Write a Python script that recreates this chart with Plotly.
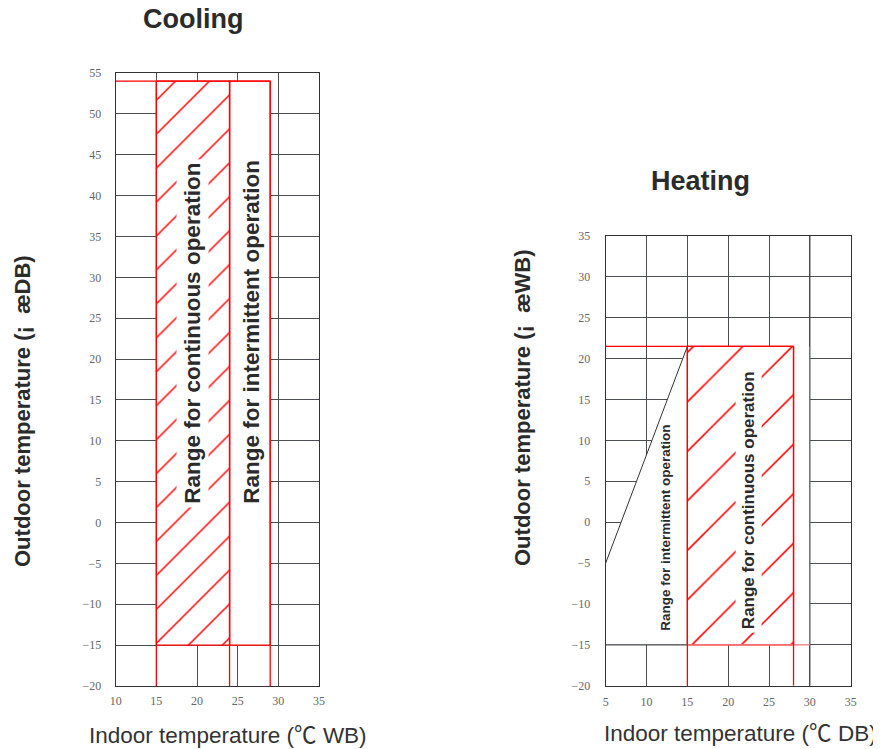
import plotly.graph_objects as go

# cooling chart data
cool_x_ticks = [10, 15, 20, 25, 30, 35]
cool_y_ticks = [-20, -15, -10, -5, 0, 5, 10, 15, 20, 25, 30, 35, 40, 45, 50, 55]
cool_continuous_x = [15, 24]
cool_intermittent_x = [24, 29]
cool_y_limits = [-15, 54]

# heating chart data
heat_x_ticks = [5, 10, 15, 20, 25, 30, 35]
heat_y_ticks = [-20, -15, -10, -5, 0, 5, 10, 15, 20, 25, 30, 35]
heat_continuous_x = [15, 28]
heat_y_limits = [-15, 21.5]
heat_diag_x = [5, 15]
heat_diag_y = [-5, 21.5]
heat_edge_x = 30

# the page body has an 8px margin, so the figure is a bit smaller than the window
OFF = 8
W, H = 881 - OFF, 749 - OFF
RED = "#ff0000"
GRID = "#4a4d52"
TXT = "#2b2b2b"
CJK = '<span style="font-family:\'Noto Sans CJK SC\'">℃</span>'


def fx(p):
    return (p - OFF) / W


def fy(p):
    return 1 - (p - OFF) / H


def rect(x0, x1, y0, y1):
    return [x0, x1, x1, x0, x0], [y0, y0, y1, y1, y0]


fig = go.Figure()

# ---- cooling ----
xs, ys = rect(cool_intermittent_x[0], cool_intermittent_x[1], cool_y_limits[0], cool_y_limits[1])
fig.add_trace(go.Scatter(x=xs, y=ys, fill="toself", fillcolor="white",
                         line=dict(color=RED, width=1.3), mode="lines",
                         xaxis="x", yaxis="y"))
xs, ys = rect(cool_continuous_x[0], cool_continuous_x[1], cool_y_limits[0], cool_y_limits[1])
fig.add_trace(go.Scatter(x=xs, y=ys, fill="toself", fillcolor="white",
                         fillpattern=dict(shape="/", fgcolor=RED, bgcolor="white",
                                          fgopacity=1, size=24, solidity=0.06),
                         line=dict(color=RED, width=1.3), mode="lines",
                         xaxis="x", yaxis="y"))
# top red line and red verticals down to the axis
fig.add_trace(go.Scatter(x=[cool_x_ticks[0], cool_intermittent_x[1]],
                         y=[cool_y_limits[1]] * 2, mode="lines",
                         line=dict(color=RED, width=1.3), xaxis="x", yaxis="y"))
for xv in [cool_continuous_x[0], cool_continuous_x[1], cool_intermittent_x[1]]:
    fig.add_trace(go.Scatter(x=[xv, xv], y=[cool_y_ticks[0], cool_y_limits[1]],
                             mode="lines", line=dict(color=RED, width=1.3),
                             xaxis="x", yaxis="y"))

# ---- heating ----
fig.add_trace(go.Scatter(x=[heat_diag_x[0], heat_diag_x[0], heat_diag_x[1], heat_diag_x[1], heat_diag_x[0]],
                         y=[heat_y_limits[0], heat_diag_y[0], heat_diag_y[1], heat_y_limits[0], heat_y_limits[0]],
                         fill="toself", fillcolor="white", mode="lines",
                         line=dict(width=0), xaxis="x2", yaxis="y2"))
xs, ys = rect(heat_continuous_x[1], heat_edge_x, heat_y_limits[0], heat_y_limits[1])
fig.add_trace(go.Scatter(x=xs, y=ys, fill="toself", fillcolor="white", mode="lines",
                         line=dict(width=0), xaxis="x2", yaxis="y2"))
xs, ys = rect(heat_continuous_x[0], heat_continuous_x[1], heat_y_limits[0], heat_y_limits[1])
fig.add_trace(go.Scatter(x=xs, y=ys, fill="toself", fillcolor="white",
                         fillpattern=dict(shape="/", fgcolor=RED, bgcolor="white",
                                          fgopacity=1, size=35, solidity=0.045),
                         line=dict(color=RED, width=1.3), mode="lines",
                         xaxis="x2", yaxis="y2"))
fig.add_trace(go.Scatter(x=heat_diag_x, y=heat_diag_y, mode="lines",
                         line=dict(color="#333", width=1), xaxis="x2", yaxis="y2"))
fig.add_trace(go.Scatter(x=[heat_edge_x, heat_edge_x], y=[heat_y_ticks[0], heat_y_ticks[-1]],
                         mode="lines", line=dict(color=GRID, width=1.2),
                         xaxis="x2", yaxis="y2"))
fig.add_trace(go.Scatter(x=[heat_x_ticks[0], heat_continuous_x[0]],
                         y=[heat_y_limits[0]] * 2, mode="lines",
                         line=dict(color=GRID, width=1.2), xaxis="x2", yaxis="y2"))
fig.add_trace(go.Scatter(x=[heat_x_ticks[0], heat_continuous_x[1]],
                         y=[heat_y_limits[1]] * 2, mode="lines",
                         line=dict(color=RED, width=1.3), xaxis="x2", yaxis="y2"))
fig.add_trace(go.Scatter(x=[heat_continuous_x[0], heat_edge_x],
                         y=[heat_y_limits[0]] * 2, mode="lines",
                         line=dict(color="#ff8080", width=1.3), xaxis="x2", yaxis="y2"))
for xv in heat_continuous_x:
    fig.add_trace(go.Scatter(x=[xv, xv], y=[heat_y_ticks[0], heat_y_limits[1]],
                             mode="lines", line=dict(color=RED, width=1.3),
                             xaxis="x2", yaxis="y2"))

tickfont = dict(family="Liberation Serif", size=12, color="#666")
axis_common = dict(showgrid=True, gridcolor=GRID, gridwidth=1.2, zeroline=False,
                   showline=True, linecolor="#333", linewidth=1.2, mirror=True,
                   ticks="", tickfont=tickfont, fixedrange=True, automargin=False)

fig.update_layout(
    width=W, height=H,
    margin=dict(l=0, r=0, t=0, b=0),
    plot_bgcolor="white", paper_bgcolor="white",
    showlegend=False,
    xaxis=dict(domain=[fx(115.7), fx(319)], range=[10, 35], tickvals=cool_x_ticks,
               ticklabelstandoff=3, anchor="y", **axis_common),
    yaxis=dict(domain=[fy(686), fy(73)], range=[-20, 55], tickvals=cool_y_ticks,
               ticklabelstandoff=11, anchor="x", **axis_common),
    xaxis2=dict(domain=[fx(605.7), fx(850.7)], range=[5, 35], tickvals=heat_x_ticks,
                ticklabelstandoff=5, anchor="y2", **axis_common),
    yaxis2=dict(domain=[fy(685.7), fy(236)], range=[-20, 35], tickvals=heat_y_ticks,
                ticklabelstandoff=12, anchor="x2", **axis_common),
)

bold = dict(family="Liberation Sans", color=TXT)
ann = [
    dict(text="<b>Cooling</b>", x=193, y=19, font=dict(size=27, **bold)),
    dict(text="<b>Heating</b>", x=700, y=181, font=dict(size=27, **bold)),
    dict(text="Indoor temperature (" + CJK + " WB)", x=228, y=733,
         font=dict(family="Liberation Sans", size=22.5, color="#333")),
    dict(text="Indoor temperature (" + CJK + " DB)", x=740, y=731,
         font=dict(family="Liberation Sans", size=22.5, color="#333")),
    dict(text="<b>Outdoor temperature (¡  æDB)</b>", x=22, y=411, textangle=-90,
         font=dict(size=22, **bold)),
    dict(text="<b>Outdoor temperature (¡  æWB)</b>", x=522, y=408, textangle=-90,
         font=dict(size=22, **bold)),
]
for a in ann:
    fig.add_annotation(xref="paper", yref="paper", x=fx(a["x"]), y=fy(a["y"]),
                       text=a["text"], textangle=a.get("textangle", 0), font=a["font"],
                       showarrow=False, xanchor="center", yanchor="middle")

# range labels inside the charts
fig.add_annotation(xref="x", yref="y", x=19.5, y=23.2, text="<b>Range for continuous operation</b>",
                   textangle=-90, showarrow=False, bgcolor="white", borderpad=3,
                   font=dict(size=22.5, **bold))
fig.add_annotation(xref="x", yref="y", x=26.6, y=23.3, text="<b>Range for intermittent operation</b>",
                   textangle=-90, showarrow=False, font=dict(size=22.5, **bold))
fig.add_annotation(xref="x2", yref="y2", x=22.5, y=2.65, text="<b>Range for continuous operation</b>",
                   textangle=-90, showarrow=False, bgcolor="white", borderpad=3,
                   font=dict(size=17, **bold))
fig.add_annotation(xref="x2", yref="y2", x=12.3, y=-0.65, text="<b>Range for intermittent operation</b>",
                   textangle=-90, showarrow=False, font=dict(size=13.5, **bold))

fig.write_html("out.html")
